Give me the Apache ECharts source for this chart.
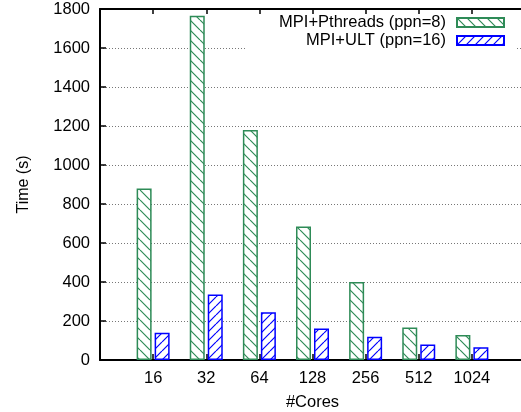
<!DOCTYPE html>
<html>
<head>
<meta charset="utf-8">
<script src="https://cdn.jsdelivr.net/npm/echarts@6/dist/echarts.min.js"></script>
<style>
html,body{margin:0;padding:0;background:#fff;width:100%;height:100%;overflow:hidden;}
#chart{position:absolute;left:0;top:0;width:521px;height:412px;}
</style>
</head>
<body>
<div id="chart"></div>
<script>
const cores = ['16', '32', '64', '128', '256', '512', '1024'];
const pthreadsTime = [880, 1765, 1180, 685, 400, 167, 128];
const ultTime = [140, 336, 245, 162, 119, 80, 66];
const seriesNames = ['MPI+Pthreads (ppn=8)', 'MPI+ULT (ppn=16)'];
const yMin = 0, yMax = 1800, yStep = 200;

const GREEN = '#2e8b57';
const BLUE = '#0000ff';
const FONT = 'Liberation Sans, Arial, Helvetica, sans-serif';

function hatch(color, dir, size) {
  const c = document.createElement('canvas');
  c.width = size; c.height = size;
  const g = c.getContext('2d');
  g.fillStyle = '#fff';
  g.fillRect(0, 0, size, size);
  g.strokeStyle = color;
  g.lineWidth = 1.2;
  g.beginPath();
  for (const k of [-1, 0, 1]) {
    if (dir === 'back') {
      g.moveTo(k * size, 0); g.lineTo(k * size + size, size);
    } else {
      g.moveTo(k * size, size); g.lineTo(k * size + size, 0);
    }
  }
  g.stroke();
  return c;
}

// pad categories so ticks sit at positions 1..7 of an 0..8 range
const cats = [''].concat(cores, ['']);
const pad = arr => [null].concat(arr, [null]);

const chart = echarts.init(document.getElementById('chart'), null, {renderer: 'canvas', width: 521, height: 412});
chart.setOption({
  animation: false,
  backgroundColor: '#fff',
  textStyle: {fontFamily: FONT},
  grid: {left: 100, right: -4, top: 9, bottom: 52, containLabel: false, outerBoundsMode: 'none'},
  legend: {
    orient: 'vertical',
    align: 'right',
    right: 6,
    top: 14,
    itemWidth: 47,
    itemHeight: 9,
    itemGap: 1,
    padding: [0, 10, 5, 33],
    backgroundColor: '#fff',
    icon: 'rect',
    textStyle: {fontSize: 16.5, color: '#000', fontFamily: FONT, padding: [0, 6, 0, 0]},
    data: seriesNames
  },
  xAxis: [{
    type: 'category',
    data: cats,
    boundaryGap: false,
    name: '#Cores',
    nameLocation: 'middle',
    nameGap: 34,
    nameTextStyle: {fontSize: 16.5, color: '#000', fontFamily: FONT},
    axisLine: {lineStyle: {color: '#000', width: 2}},
    axisTick: {inside: true, length: 6, lineStyle: {color: '#000', width: 1.5}},
    axisLabel: {fontSize: 16.5, color: '#000', margin: 10, fontFamily: FONT, interval: 0},
    splitLine: {show: false}
  }, {
    type: 'category',
    data: cats,
    boundaryGap: false,
    position: 'top',
    axisLine: {lineStyle: {color: '#000', width: 2}},
    axisTick: {inside: true, length: 5, lineStyle: {color: '#000', width: 1.5}},
    axisLabel: {show: false},
    splitLine: {show: false}
  }],
  yAxis: {
    type: 'value',
    min: yMin,
    max: yMax,
    interval: yStep,
    name: 'Time (s)',
    nameLocation: 'middle',
    nameGap: 68,
    nameTextStyle: {fontSize: 16, color: '#000', fontFamily: FONT},
    axisLine: {show: true, lineStyle: {color: '#000', width: 2}},
    axisTick: {show: true, inside: true, length: 6, lineStyle: {color: '#000', width: 1.5}},
    axisLabel: {fontSize: 16.5, color: '#000', margin: 10, fontFamily: FONT, formatter: v => String(v)},
    splitLine: {show: true, lineStyle: {color: '#777', width: 1, type: [1, 2]}}
  },
  series: [{
    name: seriesNames[0],
    type: 'bar',
    xAxisIndex: 0,
    data: pad(pthreadsTime),
    barWidth: 15,
    barGap: '20%',
    itemStyle: {
      color: {image: hatch(GREEN, 'back', 10), repeat: 'repeat'},
      borderColor: GREEN,
      borderWidth: 1.5
    }
  }, {
    name: seriesNames[1],
    type: 'bar',
    xAxisIndex: 0,
    data: pad(ultTime),
    barWidth: 15,
    barGap: '20%',
    itemStyle: {
      color: {image: hatch(BLUE, 'fwd', 9), repeat: 'repeat'},
      borderColor: BLUE,
      borderWidth: 1.5
    }
  }]
});
</script>
</body>
</html>
